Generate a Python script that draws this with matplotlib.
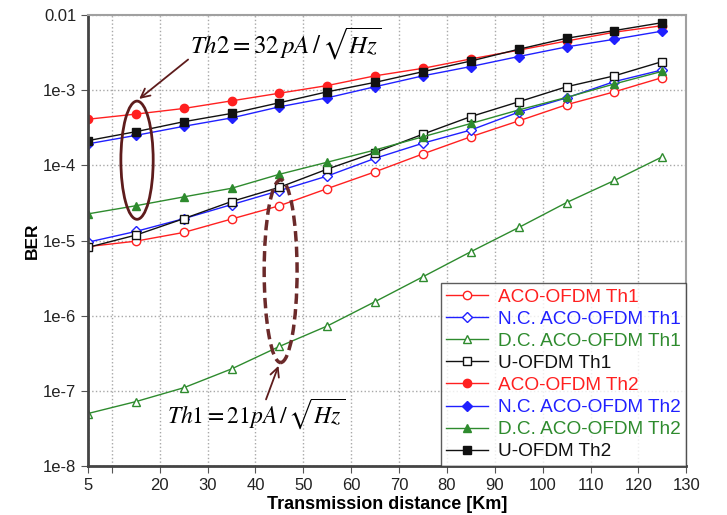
import numpy as np
import matplotlib
matplotlib.use('Agg')
import matplotlib.pyplot as plt
from matplotlib.patches import Ellipse

plt.rcParams['font.family'] = ['Liberation Sans', 'DejaVu Sans']

# Transmission distance [Km]
dist = [5, 15, 25, 35, 45, 55, 65, 75, 85, 95, 105, 115, 125]

# BER values
aco_th1 = [8.3e-6, 9.8e-6, 1.28e-5, 1.93e-5, 2.9e-5, 4.9e-5, 8.2e-5, 1.42e-4, 2.4e-4, 3.9e-4, 6.4e-4, 9.5e-4, 1.47e-3]
nc_th1 = [9.5e-6, 1.32e-5, 1.95e-5, 3.0e-5, 4.6e-5, 7.2e-5, 1.24e-4, 1.97e-4, 2.95e-4, 5.1e-4, 7.9e-4, 1.3e-3, 1.86e-3]
dc_th1 = [5.0e-8, 7.2e-8, 1.1e-7, 1.96e-7, 3.9e-7, 7.3e-7, 1.54e-6, 3.3e-6, 7.1e-6, 1.49e-5, 3.2e-5, 6.3e-5, 1.3e-4]
u_th1 = [8.1e-6, 1.18e-5, 1.95e-5, 3.3e-5, 5.1e-5, 8.9e-5, 1.48e-4, 2.6e-4, 4.45e-4, 7.0e-4, 1.11e-3, 1.55e-3, 2.4e-3]
aco_th2 = [4.1e-4, 4.8e-4, 5.7e-4, 7.2e-4, 9.1e-4, 1.15e-3, 1.55e-3, 1.95e-3, 2.6e-3, 3.4e-3, 4.5e-3, 5.9e-3, 7.2e-3]
nc_th2 = [1.93e-4, 2.5e-4, 3.3e-4, 4.27e-4, 6.0e-4, 7.9e-4, 1.11e-3, 1.55e-3, 2.06e-3, 2.8e-3, 3.76e-3, 4.75e-3, 6.1e-3]
dc_th2 = [2.26e-5, 2.9e-5, 3.8e-5, 4.95e-5, 7.6e-5, 1.1e-4, 1.6e-4, 2.4e-4, 3.6e-4, 5.45e-4, 8.0e-4, 1.21e-3, 1.78e-3]
u_th2 = [2.13e-4, 2.8e-4, 3.8e-4, 4.9e-4, 6.8e-4, 9.5e-4, 1.27e-3, 1.76e-3, 2.44e-3, 3.5e-3, 4.9e-3, 6.2e-3, 7.9e-3]

labels = ['ACO-OFDM Th1', 'N.C. ACO-OFDM Th1', 'D.C. ACO-OFDM Th1', 'U-OFDM Th1',
          'ACO-OFDM Th2', 'N.C. ACO-OFDM Th2', 'D.C. ACO-OFDM Th2', 'U-OFDM Th2']

xticks = [5, 10, 20, 30, 40, 50, 60, 70, 80, 90, 100, 110, 120, 130]
xticklabels = ['5', '', '20', '30', '40', '50', '60', '70', '80', '90', '100', '110', '120', '130']
yticks = [1e-8, 1e-7, 1e-6, 1e-5, 1e-4, 1e-3, 1e-2]
yticklabels = ['1e-8', '1e-7', '1e-6', '1e-5', '1e-4', '1e-3', '0.01']

red = '#ff2020'
blue = '#2020ff'
green = '#2e8b2e'
black = '#111111'
brown = '#5e1c1c'

series = [
    (aco_th1, red, 'o', False),
    (nc_th1, blue, 'D', False),
    (dc_th1, green, '^', False),
    (u_th1, black, 's', False),
    (aco_th2, red, 'o', True),
    (nc_th2, blue, 'D', True),
    (dc_th2, green, '^', True),
    (u_th2, black, 's', True),
]

fig = plt.figure(figsize=(7.27, 5.15), dpi=100)
ax = fig.add_axes([0.121, 0.095, 0.823, 0.876])

for (vals, col, mk, filled), lab in zip(series, labels):
    ms = 6 if mk != 'D' else 5
    ax.plot(dist, vals, color=col, lw=1.0, marker=mk, ms=ms,
            mfc=col if filled else 'white', mec=col, mew=1.0, label=lab)

ax.set_yscale('log')
ax.set_xlim(5, 130)
ax.set_ylim(1e-8, 1e-2)
ax.set_xticks(xticks)
ax.set_xticklabels(xticklabels)
ax.set_yticks(yticks)
ax.set_yticklabels(yticklabels)
ax.yaxis.set_minor_locator(matplotlib.ticker.NullLocator())
ax.tick_params(labelsize=12, colors='#555555', labelcolor='#222222', length=5)
ax.grid(True, ls=':', color='#a8a8a8', lw=1.0)

for s in ['left', 'bottom']:
    ax.spines[s].set_color('#444444')
    ax.spines[s].set_linewidth(2)
for s in ['top', 'right']:
    ax.spines[s].set_color('#a0a0a0')
    ax.spines[s].set_linewidth(1.5)

ax.set_xlabel('Transmission distance [Km]', fontsize=13, fontweight='bold', labelpad=2)
ax.set_ylabel('BER', fontsize=12.5, fontweight='bold', labelpad=2)

leg = ax.legend(loc='lower right', fontsize=13.7, frameon=True, fancybox=False,
                borderaxespad=0, handlelength=2.2, handletextpad=0.5,
                labelspacing=0.25, borderpad=0.3)
leg.get_frame().set_edgecolor('#333333')
leg.get_frame().set_linewidth(1.0)
for txt, (vals, col, mk, filled) in zip(leg.get_texts(), series):
    txt.set_color(col)

# annotations: ellipses drawn in axes fraction
ax.add_patch(Ellipse((0.082, 0.678), 0.054, 0.262, transform=ax.transAxes,
                     fill=False, ec=brown, lw=2, zorder=5))
ax.add_patch(Ellipse((0.322, 0.432), 0.055, 0.405, transform=ax.transAxes,
                     fill=False, ec='#6b2a2a', lw=2.5, ls=(0, (3, 1.5)), zorder=5))

ax.annotate('', xy=(0.082, 0.81), xytext=(0.171, 0.905), xycoords='axes fraction',
            arrowprops=dict(arrowstyle='->', color=brown, lw=1.3, mutation_scale=16))
ax.annotate('', xy=(0.32, 0.228), xytext=(0.296, 0.142), xycoords='axes fraction',
            arrowprops=dict(arrowstyle='->', color=brown, lw=1.3, mutation_scale=16))

ax.text(0.17, 0.935, r'$Th2 = 32\,pA\,/\,\sqrt{Hz}$', transform=ax.transAxes,
        fontsize=18, math_fontfamily='stix', ha='left', va='center', zorder=6)
ax.text(0.132, 0.117, r'$Th1 = 21pA\,/\,\sqrt{Hz}$', transform=ax.transAxes,
        fontsize=17, math_fontfamily='stix', ha='left', va='center', zorder=6)

fig.savefig('out.png', dpi=100)
